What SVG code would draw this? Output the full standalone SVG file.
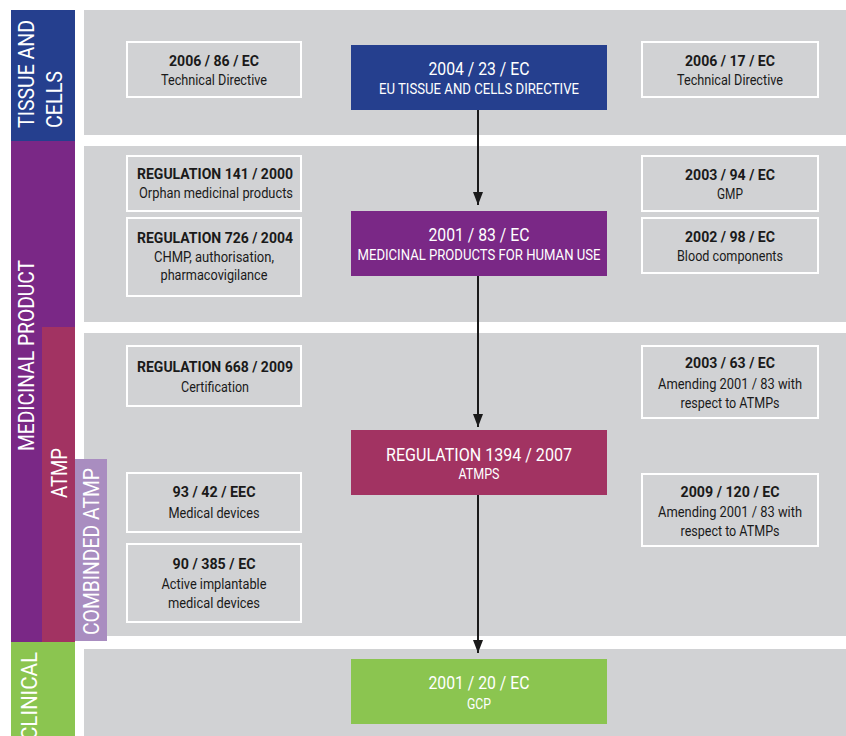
<svg xmlns="http://www.w3.org/2000/svg" width="846" height="736" viewBox="0 0 846 736">
  <style>
    .panel { fill: #d1d2d4; }
    .ref { fill: #d1d2d4; stroke: #ffffff; stroke-width: 2; }
    .t { font-family: Roboto, "Liberation Sans", sans-serif; text-anchor: middle; }
    .code { font-size: 15px; font-weight: bold; fill: #1a1a1a; }
    .desc { font-size: 15px; fill: #1a1a1a; }
    .head { font-size: 18px; fill: #ffffff; }
    .sub { font-size: 14px; fill: #ffffff; }
    .side { font-family: Roboto, "Liberation Sans", sans-serif; font-size: 22px; fill: #ffffff; }
    .link { stroke: #1a1a1a; stroke-width: 2; fill: none; marker-end: url(#arrow); }
  </style>
  <defs>
    <marker id="arrow" viewBox="0 0 13 10" refX="13" refY="5" markerWidth="13" markerHeight="10" markerUnits="userSpaceOnUse" orient="auto">
      <path d="M0,0 L13,5 L0,10 z" fill="#1a1a1a"/>
    </marker>
  </defs>

  <rect width="846" height="736" fill="#ffffff"/>

  <!-- horizontal lanes -->
  <g id="lanes">
    <rect class="panel" x="84" y="10" width="762" height="125"/>
    <rect class="panel" x="84" y="146" width="762" height="176"/>
    <rect class="panel" x="84" y="333" width="762" height="303"/>
    <rect class="panel" x="84" y="649" width="762" height="87"/>
  </g>

  <!-- category labels down the left side -->
  <g id="side-labels">
    <rect x="11" y="10" width="64" height="131" fill="#253f8e"/>
    <rect x="11" y="141" width="64" height="501" fill="#7a2886"/>
    <rect x="42" y="327" width="33" height="315" fill="#a23362"/>
    <rect x="75" y="459" width="32" height="182" fill="#a98dc0"/>
    <rect x="11" y="642" width="64" height="94" fill="#8bc550"/>
    <text class="side" transform="translate(34,128) rotate(-90)" textLength="108" lengthAdjust="spacingAndGlyphs">TISSUE AND</text>
    <text class="side" transform="translate(62,128) rotate(-90)" textLength="57" lengthAdjust="spacingAndGlyphs">CELLS</text>
    <text class="side" transform="translate(34,451) rotate(-90)" textLength="191" lengthAdjust="spacingAndGlyphs">MEDICINAL PRODUCT</text>
    <text class="side" transform="translate(67,498) rotate(-90)" textLength="50" lengthAdjust="spacingAndGlyphs">ATMP</text>
    <text class="side" transform="translate(99,635) rotate(-90)" textLength="167" lengthAdjust="spacingAndGlyphs">COMBINDED ATMP</text>
    <text class="side" transform="translate(37,740) rotate(-90)" textLength="88" lengthAdjust="spacingAndGlyphs">CLINICAL</text>
  </g>

  <!-- connectors -->
  <g id="connectors">
    <line class="link" x1="478" y1="110" x2="478" y2="205"/>
    <line class="link" x1="478" y1="276" x2="478" y2="427"/>
    <line class="link" x1="478" y1="495" x2="478" y2="653"/>
  </g>

  <!-- main directives -->
  <g id="dir-2004-23">
    <rect x="351" y="45" width="256" height="65" fill="#253f8e"/>
    <text class="t head" x="479" y="75" textLength="101" lengthAdjust="spacingAndGlyphs">2004 / 23 / EC</text>
    <text class="t sub" x="479" y="94" textLength="200" lengthAdjust="spacingAndGlyphs">EU TISSUE AND CELLS DIRECTIVE</text>
  </g>
  <g id="dir-2001-83">
    <rect x="351" y="211" width="256" height="65" fill="#7a2886"/>
    <text class="t head" x="479" y="241" textLength="101" lengthAdjust="spacingAndGlyphs">2001 / 83 / EC</text>
    <text class="t sub" x="479" y="260" textLength="243" lengthAdjust="spacingAndGlyphs">MEDICINAL PRODUCTS FOR HUMAN USE</text>
  </g>
  <g id="reg-1394-2007">
    <rect x="351" y="430" width="256" height="65" fill="#a23362"/>
    <text class="t head" x="479" y="461" textLength="186" lengthAdjust="spacingAndGlyphs">REGULATION 1394 / 2007</text>
    <text class="t sub" x="479" y="479" textLength="41" lengthAdjust="spacingAndGlyphs">ATMPS</text>
  </g>
  <g id="dir-2001-20">
    <rect x="351" y="659" width="256" height="65" fill="#8bc550"/>
    <text class="t head" x="479" y="689" textLength="101" lengthAdjust="spacingAndGlyphs">2001 / 20 / EC</text>
    <text class="t sub" x="479" y="709" textLength="24" lengthAdjust="spacingAndGlyphs">GCP</text>
  </g>

  <!-- related acts, left column -->
  <g id="dir-2006-86">
    <rect class="ref" x="127" y="42" width="174" height="55"/>
    <text class="t code" x="214" y="66" textLength="90" lengthAdjust="spacingAndGlyphs">2006 / 86 / EC</text>
    <text class="t desc" x="214" y="85" textLength="106" lengthAdjust="spacingAndGlyphs">Technical Directive</text>
  </g>
  <g id="reg-141-2000">
    <rect class="ref" x="127" y="156" width="174" height="55"/>
    <text class="t code" x="215" y="179" textLength="156" lengthAdjust="spacingAndGlyphs">REGULATION 141 / 2000</text>
    <text class="t desc" x="216" y="198" textLength="154" lengthAdjust="spacingAndGlyphs">Orphan medicinal products</text>
  </g>
  <g id="reg-726-2004">
    <rect class="ref" x="127" y="218" width="174" height="78"/>
    <text class="t code" x="215" y="243" textLength="156" lengthAdjust="spacingAndGlyphs">REGULATION 726 / 2004</text>
    <text class="t desc" x="214" y="262" textLength="120" lengthAdjust="spacingAndGlyphs">CHMP, authorisation,</text>
    <text class="t desc" x="214" y="280" textLength="107" lengthAdjust="spacingAndGlyphs">pharmacovigilance</text>
  </g>
  <g id="reg-668-2009">
    <rect class="ref" x="127" y="346" width="174" height="60"/>
    <text class="t code" x="215" y="372" textLength="156" lengthAdjust="spacingAndGlyphs">REGULATION 668 / 2009</text>
    <text class="t desc" x="215" y="392" textLength="68" lengthAdjust="spacingAndGlyphs">Certification</text>
  </g>
  <g id="dir-93-42">
    <rect class="ref" x="127" y="473" width="174" height="59"/>
    <text class="t code" x="214" y="497" textLength="83" lengthAdjust="spacingAndGlyphs">93 / 42 / EEC</text>
    <text class="t desc" x="214" y="518" textLength="91" lengthAdjust="spacingAndGlyphs">Medical devices</text>
  </g>
  <g id="dir-90-385">
    <rect class="ref" x="127" y="544" width="174" height="78"/>
    <text class="t code" x="214" y="569" textLength="83" lengthAdjust="spacingAndGlyphs">90 / 385 / EC</text>
    <text class="t desc" x="214" y="589" textLength="105" lengthAdjust="spacingAndGlyphs">Active implantable</text>
    <text class="t desc" x="214" y="608" textLength="92" lengthAdjust="spacingAndGlyphs">medical devices</text>
  </g>

  <!-- related acts, right column -->
  <g id="dir-2006-17">
    <rect class="ref" x="642" y="42" width="176" height="55"/>
    <text class="t code" x="730" y="66" textLength="90" lengthAdjust="spacingAndGlyphs">2006 / 17 / EC</text>
    <text class="t desc" x="730" y="85" textLength="106" lengthAdjust="spacingAndGlyphs">Technical Directive</text>
  </g>
  <g id="dir-2003-94">
    <rect class="ref" x="642" y="156" width="176" height="55"/>
    <text class="t code" x="730" y="180" textLength="90" lengthAdjust="spacingAndGlyphs">2003 / 94 / EC</text>
    <text class="t desc" x="730" y="199" textLength="26" lengthAdjust="spacingAndGlyphs">GMP</text>
  </g>
  <g id="dir-2002-98">
    <rect class="ref" x="642" y="218" width="176" height="55"/>
    <text class="t code" x="730" y="242" textLength="90" lengthAdjust="spacingAndGlyphs">2002 / 98 / EC</text>
    <text class="t desc" x="730" y="261" textLength="106" lengthAdjust="spacingAndGlyphs">Blood components</text>
  </g>
  <g id="dir-2003-63">
    <rect class="ref" x="642" y="346" width="176" height="72"/>
    <text class="t code" x="730" y="368" textLength="90" lengthAdjust="spacingAndGlyphs">2003 / 63 / EC</text>
    <text class="t desc" x="730" y="389" textLength="144" lengthAdjust="spacingAndGlyphs">Amending 2001 / 83 with</text>
    <text class="t desc" x="730" y="408" textLength="99" lengthAdjust="spacingAndGlyphs">respect to ATMPs</text>
  </g>
  <g id="dir-2009-120">
    <rect class="ref" x="642" y="474" width="176" height="72"/>
    <text class="t code" x="730" y="497" textLength="99" lengthAdjust="spacingAndGlyphs">2009 / 120 / EC</text>
    <text class="t desc" x="730" y="517" textLength="144" lengthAdjust="spacingAndGlyphs">Amending 2001 / 83 with</text>
    <text class="t desc" x="730" y="536" textLength="99" lengthAdjust="spacingAndGlyphs">respect to ATMPs</text>
  </g>
</svg>
